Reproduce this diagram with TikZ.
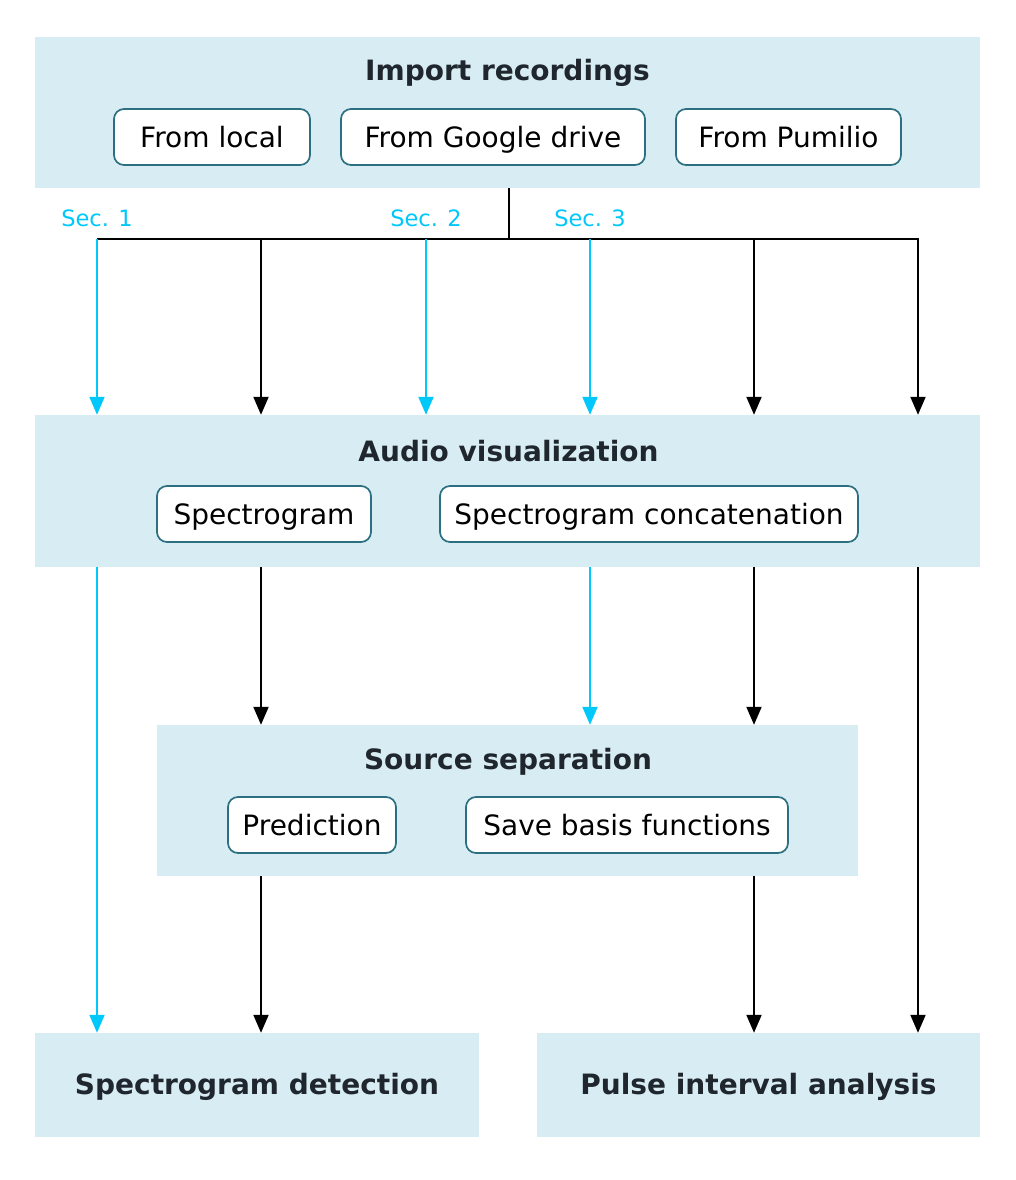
\documentclass[tikz,border=0pt]{standalone}
\usepackage{fontspec}
\setmainfont{DejaVu Sans}
\usetikzlibrary{arrows.meta}
\definecolor{boxfill}{HTML}{D7EDF3}
\definecolor{subborder}{HTML}{2B6F80}
\definecolor{titlecol}{HTML}{1F262D}
\definecolor{seccol}{HTML}{00C8FA}
\tikzset{
  bigbox/.style={fill=boxfill, draw=none, inner sep=0pt},
  subbox/.style={draw=subborder, line width=1.7pt, fill=white, rounded corners=10pt,
    minimum height=56, inner sep=0pt, text height=20.4pt, text depth=0pt,
    font=\fontsize{28}{33}\selectfont},
  titletext/.style={anchor=base, text=titlecol, inner sep=0pt,
    font=\fontsize{28}{33}\selectfont\bfseries},
  seclabel/.style={anchor=base, text=seccol, inner sep=0pt,
    font=\fontsize{22.5}{27}\selectfont},
  conn/.style={line width=2pt, draw=black},
  arr/.style={conn, -{Triangle[width=15pt,length=18pt]}},
  cyarr/.style={arr, draw=seccol, fill=seccol},
}
\begin{document}
\begin{tikzpicture}[x=1pt,y=-1pt]
\useasboundingbox (0,0) rectangle (1016,1180);
% big boxes
\node[bigbox, minimum width=945, minimum height=151] (imp) at (507.5,112.5) {};
\node[bigbox, minimum width=945, minimum height=152] (vis) at (507.5,491) {};
\node[bigbox, minimum width=701, minimum height=151] (src) at (507.5,800.5) {};
\node[bigbox, minimum width=444, minimum height=104] (det) at (257,1085) {};
\node[bigbox, minimum width=443, minimum height=104] (pul) at (758.5,1085) {};
% titles
\node[titletext] (impt) at (507.5,81) {Import recordings};
\node[titletext] (vist) at (508.5,461) {Audio visualization};
\node[titletext] (srct) at (508,769) {Source separation};
\node[titletext] (dett) at (257,1094) {Spectrogram detection};
\node[titletext] (pult) at (758.5,1094) {Pulse interval analysis};
% sub boxes
\node[subbox, minimum width=196] (loc) at (212,137) {From local};
\node[subbox, minimum width=304] (goo) at (493,137) {From Google drive};
\node[subbox, minimum width=225] (pum) at (788.5,137) {From Pumilio};
\node[subbox, minimum width=214] (spe) at (264,514) {Spectrogram};
\node[subbox, minimum width=418] (con) at (649,514) {Spectrogram concatenation};
\node[subbox, minimum width=168] (pre) at (312,825) {Prediction};
\node[subbox, minimum width=322] (sav) at (627,825) {Save basis functions};
% section labels
\node[seclabel] (s1) at (97,226) {Sec. 1};
\node[seclabel] (s2) at (426,226) {Sec. 2};
\node[seclabel] (s3) at (590,226) {Sec. 3};
% branch coordinates
\coordinate (hub) at (509,239);
\coordinate (b1) at (97,239);
\coordinate (b2) at (261,239);
\coordinate (b3) at (426,239);
\coordinate (b4) at (590,239);
\coordinate (b5) at (754,239);
\coordinate (b6) at (918,239);
% connectors top
\draw[conn] (hub |- imp.south) -- (hub);
\draw[arr] (b1) -- (b6) -- (b6 |- vis.north);
\draw[cyarr] (b1) -- (b1 |- vis.north);
\draw[arr] (b2) -- (b2 |- vis.north);
\draw[cyarr] (b3) -- (b3 |- vis.north);
\draw[cyarr] (b4) -- (b4 |- vis.north);
\draw[arr] (b5) -- (b5 |- vis.north);
% connectors middle
\draw[cyarr] (b1 |- vis.south) -- (b1 |- det.north);
\draw[arr] (b2 |- vis.south) -- (b2 |- src.north);
\draw[cyarr] (b4 |- vis.south) -- (b4 |- src.north);
\draw[arr] (b5 |- vis.south) -- (b5 |- src.north);
\draw[arr] (b6 |- vis.south) -- (b6 |- pul.north);
% connectors bottom
\draw[arr] (b2 |- src.south) -- (b2 |- det.north);
\draw[arr] (b5 |- src.south) -- (b5 |- pul.north);
\end{tikzpicture}
\end{document}
